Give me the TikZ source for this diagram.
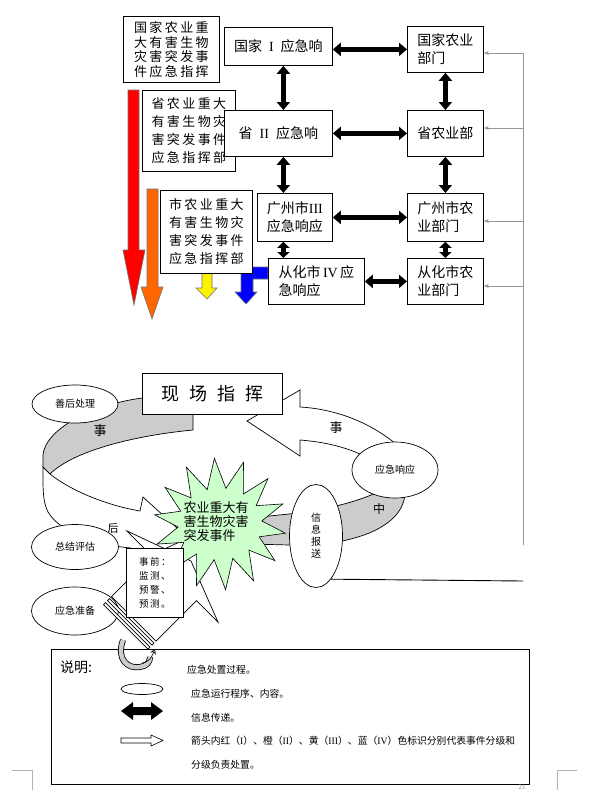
\documentclass[tikz,border=0pt]{standalone}
\usepackage{fontspec}
\setmainfont{Liberation Serif}
\newfontfamily\cjk{Noto Sans CJK SC}
\usetikzlibrary{shapes.geometric,arrows.meta}
\newcommand{\romn}[1]{{\rmfamily #1}}
\newcommand{\gapsp}{\hspace{7pt}}
\newcommand{\cs}{\hspace{2.4pt}}
\definecolor{ribgray}{RGB}{204,204,204}
\definecolor{lgray}{RGB}{150,150,150}
\definecolor{starG}{RGB}{204,255,204}
\definecolor{orng}{RGB}{255,102,0}
\begin{document}
\begin{tikzpicture}[x=1pt,y=-1pt,
 box/.style={draw,line width=0.8pt,fill=white,anchor=north west,inner sep=1pt,align=left,font=\cjk\fontsize{14pt}{18pt}\selectfont},
 lbox/.style={box,font=\cjk\fontsize{13pt}{18pt}\selectfont},
 ell/.style={ellipse,draw,line width=0.7pt,fill=white,inner sep=0pt,font=\cjk\fontsize{10pt}{12pt}\selectfont},
 dblarrow/.style={line width=5pt,arrows={Triangle[length=8pt 0,width=13pt 0]-Triangle[length=8pt 0,width=13pt 0]}},
 sdblarrow/.style={line width=5pt,arrows={Triangle[length=6pt 0,width=12pt 0]-Triangle[length=6pt 0,width=12pt 0]}},
 gline/.style={draw=lgray,line width=0.8pt},
 garrow/.style={draw=lgray,line width=0.8pt,arrows={-Stealth[length=5pt 0,width=4pt 0]}},
 carrow/.style={draw=black!55,line width=0.6pt},
 rib/.style={draw,line width=0.7pt},
 lbl/.style={font=\cjk\fontsize{13pt}{13pt}\selectfont,inner sep=0pt},
 ltxt/.style={anchor=west,inner sep=0pt,font=\cjk\fontsize{9.8pt}{10pt}\selectfont}]
\useasboundingbox (0,0) rectangle (591,790);
\fill[white] (0,0) rectangle (591,790);

% coloured level arrows
\draw[carrow,fill=red] (128,90) -- (139,90) -- (139,250) -- (145,250) -- (134,305) -- (123,250) -- (128,250) -- cycle;
\draw[carrow,fill=orng] (147,189) -- (158,189) -- (158,287) -- (163,287) -- (152,319) -- (141,287) -- (147,287) -- cycle;
\draw[carrow,fill=yellow] (202,273) -- (212,273) -- (212,288) -- (217,288) -- (207,299) -- (196,288) -- (202,288) -- cycle;
\draw[carrow,fill=blue] (268,267) -- (268,279) -- (253,279) -- (253,292) -- (257,292) -- (246,304) -- (235,292) -- (241,292) -- (241,267) -- cycle;

% boxes
\node[lbox,minimum width=96pt,minimum height=66pt,font=\cjk\fontsize{13pt}{14.5pt}\selectfont] (A1) at (123,16) {国\cs 家\cs 农\cs 业\cs 重\\大\cs 有\cs 害\cs 生\cs 物\\灾\cs 害\cs 突\cs 发\cs 事\\件\cs 应\cs 急\cs 指\cs 挥};
\node[box,minimum width=108pt,minimum height=38pt] (M1) at (224,27) {国家\gapsp\romn{I}\gapsp 应急响};
\node[box,minimum width=76pt,minimum height=46pt] (R1) at (407,26) {国家农业\\部门};
\node[lbox,minimum width=93pt,minimum height=81pt] (A2) at (142,90) {省\cs 农\cs 业\cs 重\cs 大\\有\cs 害\cs 生\cs 物\cs 灾\\害\cs 突\cs 发\cs 事\cs 件\\应\cs 急\cs 指\cs 挥\cs 部};
\node[box,minimum width=108pt,minimum height=46pt] (M2) at (224,110) {省\gapsp\romn{II}\gapsp 应急响};
\node[box,minimum width=76pt,minimum height=46pt] (R2) at (407,110) {省农业部};
\node[lbox,minimum width=92pt,minimum height=83pt] (A3) at (160,190) {市\cs 农\cs 业\cs 重\cs 大\\有\cs 害\cs 生\cs 物\cs 灾\\害\cs 突\cs 发\cs 事\cs 件\\应\cs 急\cs 指\cs 挥\cs 部};
\node[box,minimum width=75pt,minimum height=48pt] (M3) at (257,193) {广州市\romn{III}\\应急响应};
\node[box,minimum width=76pt,minimum height=48pt] (R3) at (407,193) {广州市农\\业部门};
\node[box,minimum width=96pt,minimum height=46pt] (M4) at (268,258) {从化市\,\romn{IV}\,应\\急响应};
\node[box,minimum width=76pt,minimum height=46pt] (R4) at (407,258) {从化市农\\业部门};

% information arrows
\coordinate (v1) at ([xshift=5pt]M1.south);
\coordinate (v2) at ([xshift=5pt]M2.south);
\coordinate (v3) at ([xshift=-11.5pt]M3.south);
\draw[dblarrow] (v1) -- (v1 |- M2.north);
\draw[dblarrow] (v2) -- (v2 |- M3.north);
\draw[sdblarrow] (v3) -- (v3 |- M4.north);
\draw[dblarrow] (R1) -- (R2);
\draw[dblarrow] (R2) -- (R3);
\draw[sdblarrow] (R3) -- (R4);
\draw[dblarrow] (M1.east |- R1.west) -- (R1.west);
\draw[dblarrow] (M2) -- (R2);
\draw[dblarrow] (M3) -- (R3);
\draw[dblarrow] (M4) -- (R4);

% grey reporting line
\coordinate (g1) at (523,53);
\coordinate (g2) at (523,128);
\coordinate (g3) at (523,221);
\coordinate (g4) at (523,286);
\coordinate (gb) at (523,545);
\draw[gline] (gb) -- (g1);
\draw[garrow] (g1) -- (g1 -| R1.east);
\draw[garrow] (g2) -- (g2 -| R2.east);
\draw[garrow] (g3) -- (g3 -| R3.east);
\draw[garrow] (g4) -- (g4 -| R4.east);

% cycle ribbon
\draw[rib,fill=ribgray] (193,430) .. controls (130,436) and (72,452) .. (50,474) -- (43,467) -- (43,455) .. controls (45,430) and (90,405) .. (142,398) -- (200,398) -- (200,414) -- (193,414) -- cycle;
\draw[rib,fill=white] (50,474) .. controls (70,490) and (105,505) .. (140,511) -- (143,497) -- (188,538) -- (128,566) -- (131,548) .. controls (95,545) and (60,532) .. (48,512) .. controls (44,504) and (43,495) .. (43,480) -- (43,467) -- cycle;
\draw[rib,fill=white] (397,445) .. controls (370,422) and (335,409) .. (300,407) -- (300,390) -- (247,421) -- (300,456) -- (300,440) .. controls (325,442) and (345,447) .. (362,455) -- cycle;
\draw[rib,fill=ribgray] (250,518) -- (289,514) .. controls (315,511) and (350,505) .. (378,492) -- (405,492) .. controls (405,515) and (382,533) .. (342,541) .. controls (320,545) and (300,545) .. (289,545) -- (250,544) -- cycle;
\node[lbl] (s1) at (100,431) {事};
\node[lbl] (s2) at (336,428) {事};
\node[lbl,font=\cjk\fontsize{12pt}{12pt}\selectfont] (s3) at (379,509) {中};
\node[lbl,font=\cjk\fontsize{11pt}{11pt}\selectfont] (s4) at (113,528) {后};

% stage ellipses
\node[ell,minimum width=86pt,minimum height=38pt] (E1) at (75,404) {善后处理};
\node[ell,minimum width=86pt,minimum height=56pt] (E2) at (395,470) {应急响应};
\node[ell,minimum width=53pt,minimum height=103pt,align=center] (E3) at (316,536) {信\\息\\报\\送};
\node[ell,minimum width=87pt,minimum height=45pt] (E4) at (75,547) {总结评估};
\node[ell,minimum width=87pt,minimum height=48pt] (E5) at (75,611) {应急准备};
\node[draw,line width=0.8pt,fill=white,minimum width=140pt,minimum height=41pt,anchor=north west,inner sep=0pt,font=\cjk\fontsize{18pt}{18pt}\selectfont] (XC) at (142,373) {现\hspace{10pt}场\hspace{10pt}指\hspace{10pt}挥};

% striped arrow
\draw[rib,fill=white] (111.5,596.5) -- (152,556) -- (127,531) -- (191,561) -- (218,622) -- (196.5,600.5) -- (156,641) -- cycle;
\draw[rib,fill=white] (109.5,598.5) -- (154,643) -- (152,645) -- (107.5,600.5) -- cycle;
\draw[rib,fill=white] (105.5,602.5) -- (150,647) -- (148,649) -- (103.5,604.5) -- cycle;

% event starburst
\draw[line width=0.6pt,fill=starG] plot[samples at={0,...,27},variable=\k] ({220+ifthenelse(mod(\k,2)==0,66,42)*cos(\k*360/28+8)},{524+ifthenelse(mod(\k,2)==0,66,36)*sin(\k*360/28+8)}) -- cycle;
\node[align=left,inner sep=0pt,font=\cjk\fontsize{13pt}{14pt}\selectfont] (evt) at (216,522) {农业重大有\\害生物灾害\\突发事件};

\node[draw,line width=0.8pt,fill=white,minimum width=57pt,minimum height=69pt,anchor=north west,inner sep=0pt,align=left,font=\cjk\fontsize{9.5pt}{14pt}\selectfont] (SQ) at (126,548) {事\,前\,：\\监\,测\,、\\预\,警\,、\\预\,测\,。};

\coordinate (hl) at (523,581);
\draw[line width=0.9pt] (E3.-71) -- (hl);

% legend
\node[draw,line width=1.2pt,minimum width=478pt,minimum height=135pt,anchor=north west,inner sep=0pt] (leg) at (51,649) {};
\node[anchor=west,inner sep=0pt,font=\cjk\fontsize{14pt}{14pt}\selectfont] (sm) at (60,667) {说明:};
\draw[line width=6pt] (123,640) .. controls (116,660) and (128,669) .. (140,667) .. controls (147,666) and (150,662) .. (150,657);
\draw[line width=4.4pt,ribgray] (123,640) .. controls (116,660) and (128,669) .. (140,667) .. controls (147,666) and (150,662) .. (150,657);
\draw[line width=0.6pt,arrows={-Stealth[length=5pt 0,width=6pt 0,open]}] (142,663) .. controls (150,662) and (152,656) .. (155,649);
\node[ltxt] (t1) at (187,670) {应急处置过程。};
\node[ellipse,draw,line width=0.7pt,minimum width=42pt,minimum height=11pt,inner sep=0pt] (le) at (142,689) {};
\node[ltxt] (t2) at (191,694) {应急运行程序、内容。};
\fill (121,711) -- (133,702) -- (133,707) -- (151,707) -- (151,702) -- (163,711) -- (151,720) -- (151,715) -- (133,715) -- (133,720) -- cycle;
\node[ltxt] (t3) at (191,718) {信息传递。};
\draw[line width=0.6pt,fill=white] (121,738) -- (151,738) -- (151,735) -- (163,740.5) -- (151,746) -- (151,743) -- (121,743) -- cycle;
\node[ltxt] (t4) at (191,741) {箭头内红（\romn{I}）、橙（\romn{II}）、黄（\romn{III}）、蓝（\romn{IV}）色标识分别代表事件分级和};
\node[ltxt] (t5) at (191,765) {分级负责处置。};

% page marks
\draw[black!30,line width=0.6pt] (12,770) -- (32,770) -- (32,790);
\draw[black!30,line width=0.6pt] (577,770) -- (557,770) -- (557,790);
\node[black!45,font=\rmfamily\fontsize{7pt}{7pt}\selectfont,inner sep=0pt] (pg) at (522,787.5) {21};
\end{tikzpicture}
\end{document}
